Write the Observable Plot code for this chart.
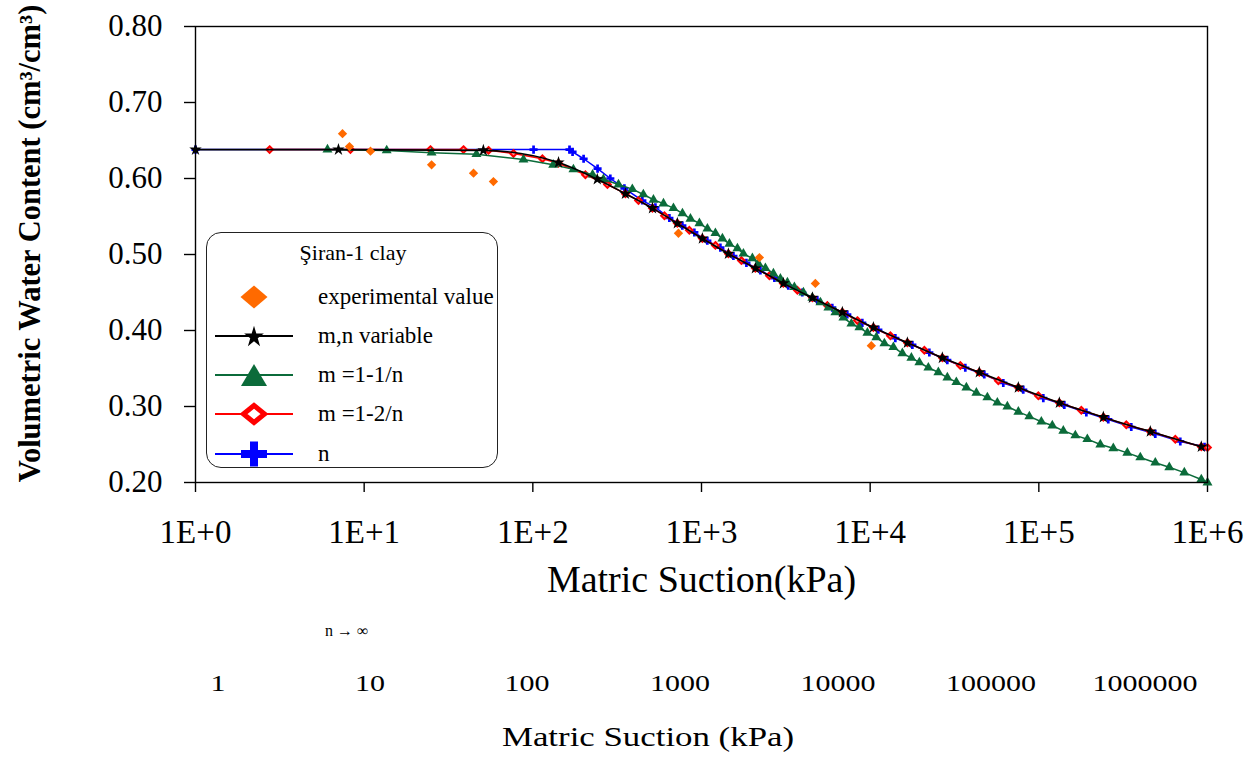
<!DOCTYPE html>
<html><head><meta charset="utf-8">
<script src="https://cdn.jsdelivr.net/npm/d3@7"></script>
<script src="https://cdn.jsdelivr.net/npm/@observablehq/plot@0.6"></script>
<style>
body{margin:0;background:#fff;font-family:"Liberation Serif","Times New Roman",serif;color:#000;}
#wrap{position:relative;width:1254px;height:757px;overflow:hidden;background:#fff;}
#chart{position:absolute;left:0;top:0;}
.abs{position:absolute;white-space:nowrap;line-height:1;}
#legend{position:absolute;left:206px;top:232px;width:292px;height:236px;box-sizing:border-box;border:1.3px solid #222;border-radius:15px;background:#fff;}
#legend svg{position:absolute;left:0;top:0;}
.lt{position:absolute;left:111px;font-size:23px;line-height:30px;height:30px;white-space:nowrap;}
</style></head>
<body><div id="wrap"><div id="chart"></div><div id="legend"></div><div id="lower"></div></div>
<script>
// ---- data ----
const suctionTicks = [1, 10, 100, 1000, 10000, 100000, 1000000];
const xTickLabels = ["1E+0", "1E+1", "1E+2", "1E+3", "1E+4", "1E+5", "1E+6"];
const yTicks = [0.2, 0.3, 0.4, 0.5, 0.6, 0.7, 0.8];
const yTickLabels = ["0.20", "0.30", "0.40", "0.50", "0.60", "0.70", "0.80"];
const lowerLabels = ["1", "10", "100", "1000", "10000", "100000", "1000000"];
const xTitle = "Matric Suction(kPa)";
const yTitle = "Volumetric Water Content (cm³/cm³)";
const lowerTitle = "Matric Suction (kPa)";
const legendTitle = "Şiran-1 clay";
const seriesNames = ["experimental value", "m,n variable", "m =1-1/n", "m =1-2/n", "n"];

const experimental = [[7.44,0.659],[8.18,0.642],[10.9,0.636],[25.1,0.618],[44.5,0.607],[58.4,0.596],[730,0.528],[2204,0.496],[4732,0.462],[10160,0.380]];

const mnVariable = [[1,0.638],[7.04,0.638],[50.9,0.637],[142,0.621],[241,0.599],[354,0.580],[512,0.561],[719,0.541],[1012,0.521],[1444,0.501],[2087,0.482],[3058,0.462],[4544,0.443],[6839,0.424],[10450,0.404],[16620,0.384],[26790,0.364],[44360,0.345],[75590,0.325],[132300,0.305],[241200,0.286],[458100,0.267],[918800,0.247]];

const m11n = [[6.06,0.638],[13.6,0.637],[25.1,0.634],[46.3,0.632],[88,0.625],[132,0.618],[174,0.612],[226,0.605],[262,0.599],[322,0.592],[389,0.586],[452,0.579],[519,0.572],[595,0.567],[682,0.561],[771,0.554],[860,0.547],[972,0.541],[1084,0.534],[1209,0.528],[1330,0.521],[1464,0.514],[1633,0.508],[1772,0.501],[2003,0.495],[2175,0.488],[2392,0.482],[2669,0.475],[2936,0.468],[3230,0.463],[3553,0.457],[4019,0.450],[4544,0.443],[5068,0.437],[5652,0.430],[6219,0.424],[6936,0.417],[7739,0.409],[8630,0.404],[9625,0.397],[10880,0.391],[12140,0.383],[13730,0.378],[15520,0.370],[17550,0.364],[19570,0.358],[22130,0.351],[25370,0.345],[28690,0.338],[32430,0.332],[37190,0.325],[42630,0.318],[49530,0.312],[56750,0.305],[65070,0.300],[75590,0.293],[87850,0.287],[103500,0.280],[120200,0.275],[139700,0.268],[164600,0.262],[193900,0.257],[231500,0.250],[276400,0.245],[334600,0.239],[399600,0.233],[490400,0.226],[593700,0.220],[728700,0.213],[918800,0.204],[1000000,0.200]];

const m12n = [[2.75,0.638],[8.29,0.638],[24.7,0.638],[38.8,0.638],[54.6,0.637],[76.8,0.633],[114,0.626],[142,0.620],[205,0.605],[277,0.592],[354,0.580],[423,0.571],[512,0.561],[603,0.551],[719,0.541],[847,0.532],[1012,0.521],[1209,0.512],[1444,0.501],[1724,0.492],[2087,0.482],[2527,0.472],[3058,0.462],[3702,0.453],[4544,0.443],[5575,0.433],[6839,0.424],[8398,0.413],[10450,0.404],[13180,0.393],[16620,0.384],[20960,0.374],[26790,0.364],[34250,0.354],[44360,0.345],[57540,0.334],[75590,0.325],[99330,0.314],[132300,0.305],[178600,0.295],[241200,0.286],[330100,0.276],[458100,0.267],[644500,0.257],[918800,0.247],[1000000,0.246]];

const nOnly = [[1,0.638],[101,0.638],[165,0.638],[172,0.635],[200,0.626],[242,0.613],[288,0.600],[349,0.587],[446,0.571],[533,0.562],[645,0.548],[770,0.538],[907,0.529],[1083,0.518],[1294,0.509],[1546,0.498],[1846,0.489],[2235,0.479],[2705,0.469],[3271,0.459],[3960,0.450],[4859,0.440],[5962,0.430],[7318,0.421],[8983,0.410],[11180,0.401],[14100,0.390],[17790,0.381],[22430,0.371],[28670,0.361],[36650,0.351],[47500,0.342],[61560,0.331],[80840,0.322],[106300,0.311],[141600,0.302],[191300,0.292],[258100,0.283],[353200,0.273],[490400,0.264],[689700,0.254],[960000,0.247]];

const colors = {exp: "#ff6a00", mn: "#000000", g: "#0b6b3a", r: "#ff0000", b: "#0000ff"};

const X = d => d[0], Y = d => d[1];

const chart = Plot.plot({
  width: 1254, height: 600,
  marginLeft: 195, marginRight: 47, marginTop: 26, marginBottom: 118,
  style: {fontFamily: "'Liberation Serif', 'Times New Roman', serif", background: "white", color: "black", overflow: "visible"},
  x: {type: "log", domain: [1, 1000000], label: null},
  y: {domain: [0.2, 0.8], label: null},
  marks: [
    Plot.axisX(suctionTicks, {tickSize: 10, tickPadding: 27, fontSize: 33, strokeWidth: 1.4, label: null,
      tickFormat: d => xTickLabels[suctionTicks.indexOf(d)]}),
    Plot.axisY(yTicks, {tickSize: 11, tickPadding: 22, fontSize: 31, strokeWidth: 1.4, label: null,
      tickFormat: d => yTickLabels[yTicks.indexOf(d)]}),
    Plot.line(nOnly, {x: X, y: Y, stroke: colors.b, strokeWidth: 1.5}),
    Plot.dot(nOnly, {x: X, y: Y, symbol: "cross", r: 3.4, fill: colors.b}),
    Plot.line(m12n, {x: X, y: Y, stroke: colors.r, strokeWidth: 1.5}),
    Plot.dot(m12n, {x: X, y: Y, symbol: "diamond2", r: 3, fill: "#ff9090", stroke: colors.r, strokeWidth: 2}),
    Plot.line(m11n, {x: X, y: Y, stroke: colors.g, strokeWidth: 1.5}),
    Plot.dot(m11n, {x: X, y: Y, symbol: "triangle", r: 3.7, fill: colors.g}),
    Plot.line(mnVariable, {x: X, y: Y, stroke: colors.mn, strokeWidth: 1.6, curve: "monotone-x"}),
    Plot.dot(mnVariable, {x: X, y: Y, symbol: "star", r: 3.9, fill: colors.mn}),
    Plot.dot(experimental, {x: X, y: Y, symbol: "diamond2", r: 4.2, fill: colors.exp}),
    Plot.frame({stroke: "black", strokeWidth: 1.4}),
    Plot.text([xTitle], {text: d => d, frameAnchor: "bottom", dy: 109, fontSize: 38}),
    Plot.text([yTitle], {text: d => d, frameAnchor: "left", textAnchor: "middle", dx: -165, dy: -11, rotate: -90, fontSize: 30.5, fontWeight: "bold"})
  ]
});
document.getElementById("chart").appendChild(chart);

// ---- legend ----
const lg = document.getElementById("legend");
const rowsY = [64, 103, 142, 181, 221];
const mx = 47;
let svg = `<svg width="292" height="236" xmlns="http://www.w3.org/2000/svg">`;
svg += `<polygon points="${mx-13.5},${rowsY[0]} ${mx},${rowsY[0]-11.5} ${mx+13.5},${rowsY[0]} ${mx},${rowsY[0]+11.5}" fill="${colors.exp}"/>`;
svg += `<line x1="8" x2="86" y1="${rowsY[1]}" y2="${rowsY[1]}" stroke="${colors.mn}" stroke-width="2"/>`;
svg += `<path transform="translate(${mx},${rowsY[1]+1}) scale(1,1.1)" d="${d3.symbol(d3.symbolStar, 120)()}" fill="${colors.mn}"/>`;
svg += `<line x1="8" x2="86" y1="${rowsY[2]}" y2="${rowsY[2]}" stroke="${colors.g}" stroke-width="2"/>`;
svg += `<polygon points="${mx-13},${rowsY[2]+11} ${mx},${rowsY[2]-11} ${mx+13},${rowsY[2]+11}" fill="${colors.g}"/>`;
svg += `<line x1="8" x2="86" y1="${rowsY[3]}" y2="${rowsY[3]}" stroke="${colors.r}" stroke-width="2"/>`;
svg += `<polygon points="${mx-10.5},${rowsY[3]} ${mx},${rowsY[3]-8.5} ${mx+10.5},${rowsY[3]} ${mx},${rowsY[3]+8.5}" fill="white" stroke="${colors.r}" stroke-width="5"/>`;
svg += `<line x1="8" x2="86" y1="${rowsY[4]}" y2="${rowsY[4]}" stroke="${colors.b}" stroke-width="2"/>`;
svg += `<rect x="${mx-13}" y="${rowsY[4]-4}" width="26" height="8" fill="${colors.b}"/>`;
svg += `<rect x="${mx-4}" y="${rowsY[4]-12.5}" width="8" height="25" fill="${colors.b}"/>`;
svg += `</svg>`;
let html = svg;
html += `<div class="lt" style="left:0;width:292px;text-align:center;top:${20-15}px;font-size:22px;">${legendTitle}</div>`;
seriesNames.forEach((s, i) => {
  html += `<div class="lt" style="top:${rowsY[i]-15}px;">${s}</div>`;
});
lg.innerHTML = html;

// ---- lower block (second set of labels) ----
const lower = document.getElementById("lower");
const lowerX = [218, 370, 527, 680, 838, 991, 1145];
let lh = `<div class="abs" style="left:325px;top:623px;font-size:16px;">n → ∞</div>`;
lowerLabels.forEach((t, i) => {
  lh += `<div class="abs" style="left:${lowerX[i]}px;top:671px;font-size:24px;transform:translateX(-50%) scaleX(1.25);">${t}</div>`;
});
lh += `<div class="abs" style="left:648px;top:724px;font-size:27px;transform:translateX(-50%) scaleX(1.29);">${lowerTitle}</div>`;
lower.innerHTML = lh;
</script>
</body></html>
